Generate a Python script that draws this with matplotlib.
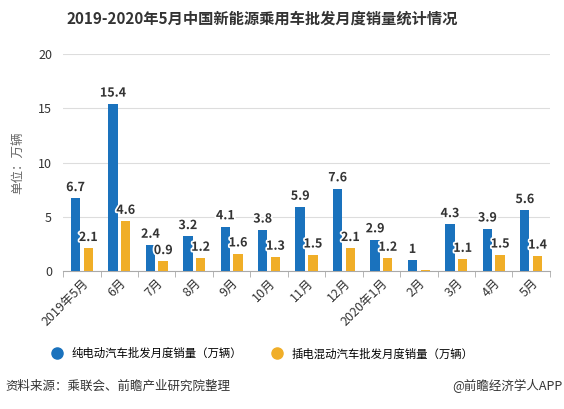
import matplotlib.pyplot as plt
import matplotlib.patheffects as pe
import numpy as np

plt.rcParams['font.family'] = ['Noto Sans CJK SC', 'DejaVu Sans']

months = ['2019年5月', '6月', '7月', '8月', '9月', '10月', '11月', '12月',
          '2020年1月', '2月', '3月', '4月', '5月']
bev = [6.7, 15.4, 2.4, 3.2, 4.1, 3.8, 5.9, 7.6, 2.9, 1, 4.3, 3.9, 5.6]
phev = [2.1, 4.6, 0.9, 1.2, 1.6, 1.3, 1.5, 2.1, 1.2, 0.1, 1.1, 1.5, 1.4]
phev_labels = ['2.1', '4.6', '0.9', '1.2', '1.6', '1.3', '1.5', '2.1', '1.2', '', '1.1', '1.5', '1.4']

blue = '#1a72bd'
orange = '#f0ae28'

fig = plt.figure(figsize=(5.64, 4.09), dpi=100)
ax = fig.add_axes([0.112, 0.337, 0.863, 0.531])

x = np.arange(len(months))
w = 0.25
ax.bar(x - 0.17, bev, w, color=blue, zorder=3)
ax.bar(x + 0.17, phev, w, color=orange, zorder=3)

outline = [pe.withStroke(linewidth=2.5, foreground='white')]
for i in range(len(months)):
    ax.text(x[i] - 0.17, bev[i] + 0.4, str(bev[i]), ha='center', va='bottom',
            fontsize=9, fontweight='bold', color='#333333', zorder=5, path_effects=outline)
    if phev_labels[i]:
        ax.text(x[i] + 0.17, phev[i] + 0.4, phev_labels[i], ha='center', va='bottom',
                fontsize=9, fontweight='bold', color='#333333', zorder=5, path_effects=outline)

ax.set_xlim(-0.5, len(months) - 0.5)
ax.set_ylim(0, 20)
ax.set_yticks([0, 5, 10, 15, 20])
ax.yaxis.grid(True, color='#dddddd', linewidth=0.8, zorder=0)
for s in ['top', 'right', 'left']:
    ax.spines[s].set_visible(False)
ax.spines['bottom'].set_color('#aaaaaa')
ax.tick_params(axis='y', length=0, labelsize=9, colors='#333333', pad=8)
ax.set_xticks(x)
ax.set_xticklabels(months, rotation=45, ha='right', rotation_mode='anchor', fontsize=9, color='#333333')
ax.set_xticks(np.arange(len(months) + 1) - 0.5, minor=True)
ax.tick_params(axis='x', which='major', length=0, pad=4)
ax.tick_params(axis='x', which='minor', length=4, color='#aaaaaa')
ax.set_ylabel('单位：万辆', fontsize=9, color='#666666', labelpad=10)

fig.text(0.465, 0.955, '2019-2020年5月中国新能源乘用车批发月度销量统计情况',
         ha='center', va='center', fontsize=11, fontweight='bold', color='#333333')

fig.legend(handles=[
    plt.Line2D([], [], marker='o', ls='', color=blue, markersize=8, label='纯电动汽车批发月度销量（万辆）'),
    plt.Line2D([], [], marker='o', ls='', color=orange, markersize=8, label='插电混动汽车批发月度销量（万辆）'),
], loc='center', bbox_to_anchor=(0.46, 0.135), ncol=2, frameon=False, fontsize=8.2,
    handletextpad=0.3, columnspacing=2.0)

fig.text(0.01, 0.055, '资料来源：乘联会、前瞻产业研究院整理', ha='left', va='center', fontsize=9, color='#333333')
fig.text(0.997, 0.055, '@前瞻经济学人APP', ha='right', va='center', fontsize=9, color='#333333')

fig.savefig('out.png', dpi=100)
